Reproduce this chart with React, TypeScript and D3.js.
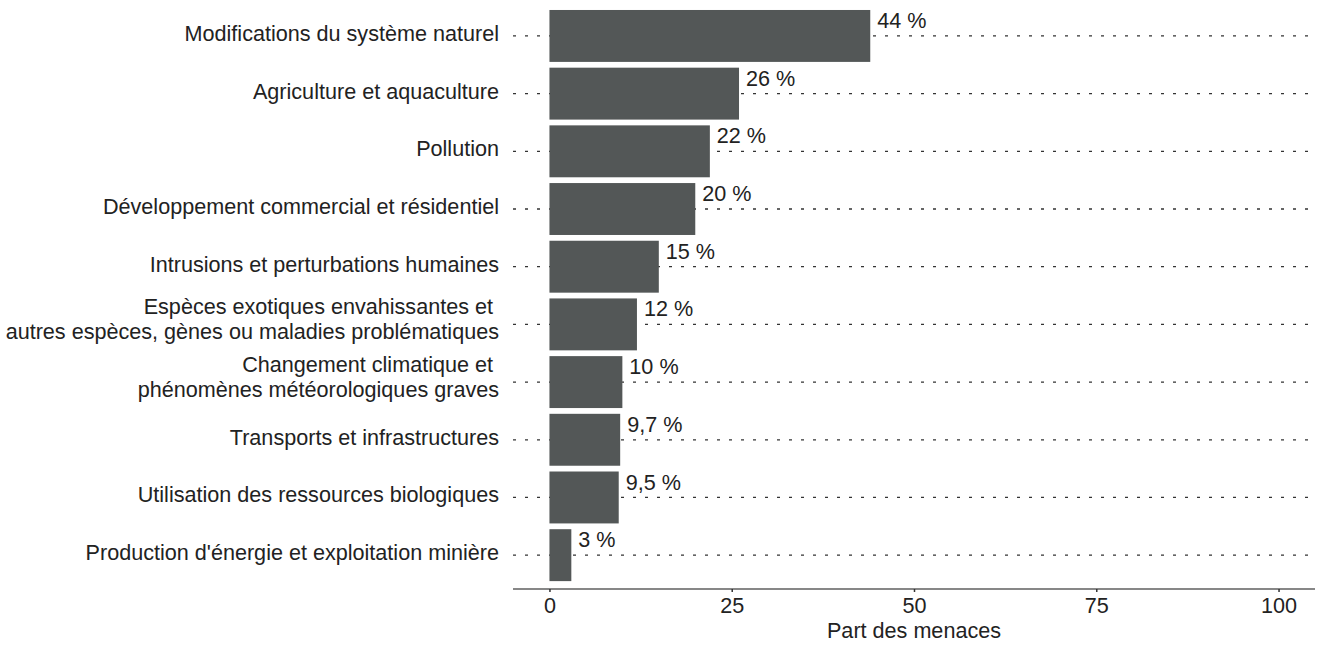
import React, { useEffect, useRef } from "react";
import * as d3 from "d3";

const categories: string[][] = [
  ["Modifications du système naturel"],
  ["Agriculture et aquaculture"],
  ["Pollution"],
  ["Développement commercial et résidentiel"],
  ["Intrusions et perturbations humaines"],
  ["Espèces exotiques envahissantes et ", "autres espèces, gènes ou maladies problématiques"],
  ["Changement climatique et ", "phénomènes météorologiques graves"],
  ["Transports et infrastructures"],
  ["Utilisation des ressources biologiques"],
  ["Production d'énergie et exploitation minière"],
];
const values = [44, 26, 22, 20, 15, 12, 10, 9.7, 9.5, 3];
const xTicks = [0, 25, 50, 75, 100];
const axisTitle = "Part des menaces";

const frFormat = d3.formatLocale({
  decimal: ",",
  thousands: " ",
  grouping: [3],
  currency: ["", " €"],
}).format("~r");

const App: React.FC = () => {
  const svgRef = useRef<SVGSVGElement | null>(null);

  useEffect(() => {
    const width = 1318;
    const height = 646;
    const font = "'Liberation Sans', Arial, Helvetica, sans-serif";
    const ink = "#222";
    const fs = 21.6;

    d3.select(svgRef.current).selectAll("*").remove();
    const svg = d3
      .select(svgRef.current)
      .attr("width", width)
      .attr("height", height)
      .style("font-family", font);

    const keys = categories.map((_, i) => String(i));

    const x = d3.scaleLinear().domain([-5, 105]).range([513, 1315]);
    const y = d3
      .scaleBand()
      .domain(keys)
      .range([7.1, 584])
      .paddingInner(0.1)
      .paddingOuter(0.05);

    // dotted row guides
    svg
      .append("g")
      .selectAll("line")
      .data(keys)
      .join("line")
      .attr("x1", 513)
      .attr("x2", 1315)
      .attr("y1", (d) => y(d)! + y.bandwidth() / 2)
      .attr("y2", (d) => y(d)! + y.bandwidth() / 2)
      .attr("stroke", "#333")
      .attr("stroke-width", 1.3)
      .attr("stroke-dasharray", "3,9");

    // bars
    svg
      .append("g")
      .selectAll("rect")
      .data(values)
      .join("rect")
      .attr("x", x(0))
      .attr("y", (_, i) => y(keys[i])!)
      .attr("width", (d) => x(d) - x(0))
      .attr("height", y.bandwidth())
      .attr("fill", "#535757");

    // value labels
    svg
      .append("g")
      .selectAll("text")
      .data(values)
      .join("text")
      .attr("x", (d) => x(d) + 7)
      .attr("y", (_, i) => y(keys[i])! + 18)
      .attr("font-size", fs)
      .attr("fill", ink)
      .text((d) => `${frFormat(d)} %`);

    // category labels
    const lab = svg
      .append("g")
      .selectAll("text")
      .data(categories)
      .join("text")
      .attr("text-anchor", "end")
      .attr("font-size", fs)
      .attr("fill", ink)
      .style("white-space", "pre")
      .attr("x", 499)
      .attr("y", (_, i) => y(keys[i])! + y.bandwidth() / 2);
    lab
      .selectAll("tspan")
      .data((d) => d.map((t, j) => ({ t, j, n: d.length })))
      .join("tspan")
      .attr("x", 499)
      .attr("dy", (d) => (d.j === 0 ? (d.n === 1 ? 5 : -10) : 25))
      .text((d) => d.t);

    // x axis
    const axis = svg
      .append("g")
      .attr("transform", `translate(0,589)`)
      .call(
        d3
          .axisBottom(x)
          .tickValues(xTicks)
          .tickSize(3)
          .tickPadding(6)
          .tickFormat((d) => String(d))
      );
    axis
      .select(".domain")
      .attr("stroke", "#111")
      .attr("stroke-width", 1.2)
      .attr("d", "M513,0H1315");
    axis.selectAll(".tick line").attr("stroke", "#333").attr("stroke-width", 1.5);
    axis
      .selectAll(".tick text")
      .attr("font-size", fs)
      .attr("fill", ink)
      .attr("font-family", font);

    svg
      .append("text")
      .attr("x", (513 + 1315) / 2)
      .attr("y", 638)
      .attr("text-anchor", "middle")
      .attr("font-size", fs)
      .attr("fill", ink)
      .text(axisTitle);
  }, []);

  return (
    <svg
      ref={svgRef}
      style={{ position: "absolute", left: 0, top: 0, background: "#fff" }}
    ></svg>
  );
};

export default App;
